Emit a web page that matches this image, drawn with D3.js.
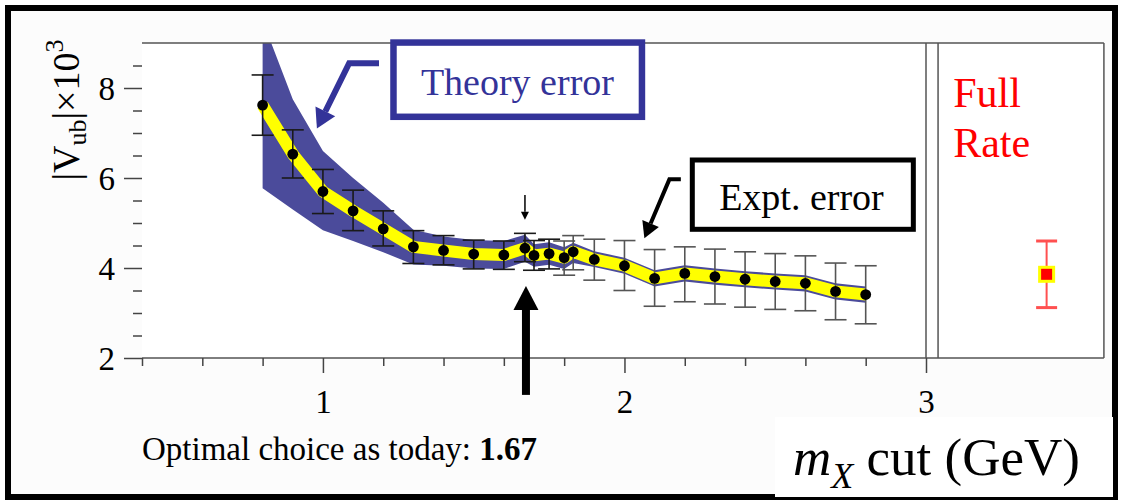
<!DOCTYPE html>
<html>
<head>
<meta charset="utf-8">
<script src="https://cdn.jsdelivr.net/npm/d3@7"></script>
<style>
  html, body { margin: 0; padding: 0; background: #ffffff; }
  svg { display: block; }
  text { font-family: "Liberation Serif", "Times New Roman", serif; }
</style>
</head>
<body>
<svg id="chart" width="1122" height="504"></svg>
<script>
// m_X cut values (GeV)
const mxCut = [0.8, 0.9, 1.0, 1.1, 1.2, 1.3, 1.4, 1.5, 1.6, 1.67, 1.7, 1.75, 1.8, 1.83,
               1.9, 2.0, 2.1, 2.2, 2.3, 2.4, 2.5, 2.6, 2.7, 2.8];
// |Vub| x 10^3 central values
const vub = [7.62, 6.53, 5.70, 5.27, 4.87, 4.47, 4.39, 4.31, 4.29, 4.44, 4.28, 4.32, 4.23, 4.36,
             4.19, 4.05, 3.77, 3.88, 3.81, 3.75, 3.70, 3.66, 3.48, 3.41];
// experimental error bar ends
const exptHi = [8.29, 7.07, 6.19, 5.73, 5.27, 4.83, 4.72, 4.62, 4.60, 4.77, 4.61, 4.64, 4.60, 4.72,
                4.64, 4.61, 4.41, 4.47, 4.42, 4.36, 4.32, 4.27, 4.11, 4.05];
const exptLo = [6.95, 6.00, 5.21, 4.83, 4.49, 4.10, 4.07, 3.98, 3.97, 4.14, 3.95, 3.98, 3.84, 3.96,
                3.73, 3.50, 3.15, 3.25, 3.20, 3.13, 3.08, 3.05, 2.85, 2.76];
// theory error band edges
const theoryHi = [9.50, 7.75, 6.60, 6.00, 5.45, 4.85, 4.70, 4.62, 4.60, 4.74, 4.53, 4.57, 4.46, 4.56,
                  4.37, 4.23, 3.95, 4.06, 3.99, 3.93, 3.88, 3.84, 3.66, 3.59];
const theoryLo = [5.77, 5.30, 4.84, 4.60, 4.35, 4.08, 4.05, 3.99, 3.98, 4.14, 4.03, 4.07, 3.98, 4.11,
                  4.02, 3.87, 3.59, 3.70, 3.63, 3.57, 3.52, 3.48, 3.30, 3.23];
// full-rate measurement (drawn in its own side panel)
const fullRateX = 3.4;
const fullRate = 3.86, fullRateHi = 4.60, fullRateLo = 3.12;
// side panel edges on the m_X axis
const panelLeft = 3.04, panelRight = 3.59;
// optimal cut
const optimalCut = 1.67;

// axis ticks
const xMajorTicks = [1, 2, 3];
const xMinorTicks = [0.4, 0.6, 0.8, 1.2, 1.4, 1.6, 1.8, 2.2, 2.4, 2.6, 2.8];
const yMajorTicks = [2, 4, 6, 8];
const yMinorTicks = [2.5, 3, 3.5, 4.5, 5, 5.5, 6.5, 7, 7.5, 8.5];

const pts = mxCut.map((m, i) => ({
  m, v: vub[i], hi: exptHi[i], lo: exptLo[i], tHi: theoryHi[i], tLo: theoryLo[i]
}));

const svg = d3.select("#chart");
const W = 1122, H = 504;

const x = d3.scaleLinear().domain([0.4, 3.0]).range([142, 926]);
const y = d3.scaleLinear().domain([2, 9]).range([358, 43]);

const BLUE = "#333399";
const BAND = "#4b4b9b";

// page frame
svg.append("rect").attr("x", 8).attr("y", 8).attr("width", 1107).attr("height", 489)
  .attr("fill", "#fcfcfc").attr("stroke", "#000").attr("stroke-width", 6);

// clip for the plotting area
svg.append("defs").append("clipPath").attr("id", "plotClip")
  .append("rect").attr("x", x(0.4)).attr("y", y(9)).attr("width", x(3) - x(0.4)).attr("height", y(2) - y(9));

svg.append("rect").attr("x", x(0.4)).attr("y", y(9)).attr("width", x(panelRight) - x(0.4))
  .attr("height", y(2) - y(9)).attr("fill", "#ffffff");

const plot = svg.append("g").attr("clip-path", "url(#plotClip)");

// theory error band
plot.append("path").datum(pts)
  .attr("d", d3.area().x(d => x(d.m)).y0(d => y(d.tLo)).y1(d => y(d.tHi)))
  .attr("fill", BAND);

// central value line
plot.append("path").datum(pts)
  .attr("d", d3.line().x(d => x(d.m)).y(d => y(d.v)))
  .attr("fill", "none").attr("stroke", "#ffff00").attr("stroke-width", 12)
  .attr("stroke-linejoin", "round");

// experimental error bars
const bars = plot.append("g").selectAll("g").data(pts).join("g")
  .attr("stroke", d => d.m >= 1.8 ? "#555555" : "#1a1a1a").attr("stroke-width", 1.6);
bars.append("line").attr("x1", d => x(d.m)).attr("x2", d => x(d.m))
  .attr("y1", d => y(d.hi)).attr("y2", d => y(d.lo));
bars.append("line").attr("x1", d => x(d.m) - 11).attr("x2", d => x(d.m) + 11)
  .attr("y1", d => y(d.hi)).attr("y2", d => y(d.hi));
bars.append("line").attr("x1", d => x(d.m) - 11).attr("x2", d => x(d.m) + 11)
  .attr("y1", d => y(d.lo)).attr("y2", d => y(d.lo));

// central points
plot.append("g").selectAll("circle").data(pts).join("circle")
  .attr("cx", d => x(d.m)).attr("cy", d => y(d.v)).attr("r", 5.4).attr("fill", "#000");

// frame lines of the plot and the side panel
const frameG = svg.append("g").attr("stroke", "#555").attr("stroke-width", 1.5).attr("fill", "none");
frameG.append("line").attr("x1", x(0.4)).attr("x2", x(panelRight)).attr("y1", y(9)).attr("y2", y(9));
frameG.append("line").attr("x1", x(3)).attr("x2", x(3)).attr("y1", y(9)).attr("y2", y(2));
frameG.append("line").attr("x1", x(panelLeft)).attr("x2", x(panelLeft)).attr("y1", y(9)).attr("y2", y(2));
frameG.append("line").attr("x1", x(panelRight)).attr("x2", x(panelRight)).attr("y1", y(9)).attr("y2", y(2));
frameG.append("line").attr("x1", x(0.4)).attr("x2", x(panelRight)).attr("y1", y(2)).attr("y2", y(2));

// axes
function styleAxis(g) {
  g.select(".domain").remove();
  g.selectAll(".tick line").attr("stroke", "#444").attr("stroke-width", 1.5);
  g.selectAll("text").attr("fill", "#000").attr("font-family", "Liberation Serif, serif");
}
svg.append("g").attr("transform", `translate(0,${y(2)})`)
  .call(d3.axisBottom(x).tickValues(xMinorTicks).tickSize(8).tickFormat(""))
  .call(styleAxis);
const xAxisG = svg.append("g").attr("transform", `translate(0,${y(2)})`)
  .call(d3.axisBottom(x).tickValues(xMajorTicks).tickSize(15).tickFormat(d3.format("d")))
  .call(styleAxis);
xAxisG.selectAll("text").attr("y", 55).attr("dy", 0).attr("font-size", 33);

svg.append("g").attr("transform", `translate(${x(0.4)},0)`)
  .call(d3.axisLeft(y).tickValues(yMinorTicks).tickSize(9).tickFormat(""))
  .call(styleAxis);
const yAxisG = svg.append("g").attr("transform", `translate(${x(0.4)},0)`)
  .call(d3.axisLeft(y).tickValues(yMajorTicks).tickSize(18).tickPadding(9).tickFormat(d3.format("d")))
  .call(styleAxis);
yAxisG.selectAll("text").attr("font-size", 33).attr("dy", "0.34em");

// y axis title
const yTitle = svg.append("text")
  .attr("transform", "translate(79,110) rotate(-90)")
  .attr("text-anchor", "middle").attr("font-size", 38).attr("fill", "#000");
yTitle.append("tspan").text("|V");
yTitle.append("tspan").attr("font-size", 26).attr("dy", 7).text("ub");
yTitle.append("tspan").attr("dy", -7).text("|×10");
yTitle.append("tspan").attr("font-size", 26).attr("dy", -16).text("3");

// arrow helper: polyline shaft ending in a filled triangular head
function arrow(g, points, color, width, headLen, headHalf) {
  const n = points.length;
  const [tx, ty] = points[n - 1];
  const [px, py] = points[n - 2];
  const len = Math.hypot(tx - px, ty - py);
  const ux = (tx - px) / len, uy = (ty - py) / len;
  const bx = tx - ux * headLen, by = ty - uy * headLen;
  const shaft = points.slice(0, n - 1).concat([[bx, by]]);
  g.append("path").attr("d", d3.line()(shaft)).attr("fill", "none")
    .attr("stroke", color).attr("stroke-width", width).attr("stroke-linejoin", "miter");
  g.append("path").attr("d", d3.line()([[tx, ty], [bx - uy * headHalf, by + ux * headHalf],
    [bx + uy * headHalf, by - ux * headHalf]]) + "Z").attr("fill", color);
}
const ann = svg.append("g");

// Theory error box and pointer
arrow(ann, [[x(1.186), y(8.55)], [x(1.087), y(8.55)], [x(0.98), y(7.10)]], BLUE, 6, 19, 11);
ann.append("rect").attr("x", x(1.234)).attr("y", y(9.01))
  .attr("width", x(2.058) - x(1.234)).attr("height", y(7.36) - y(9.01))
  .attr("fill", "#fff").attr("stroke", BLUE).attr("stroke-width", 6.5);
ann.append("text").attr("x", x(1.645)).attr("y", y(7.84)).attr("text-anchor", "middle")
  .attr("font-size", 38).attr("fill", BLUE).text("Theory error");

// Expt. error box and pointer
arrow(ann, [[x(2.187), y(5.97)], [x(2.149), y(5.97)], [x(2.066), y(4.66)]], "#000", 4, 16, 9);
ann.append("rect").attr("x", x(2.225)).attr("y", y(6.40))
  .attr("width", x(2.958) - x(2.225)).attr("height", y(4.86) - y(6.40))
  .attr("fill", "#fff").attr("stroke", "#000").attr("stroke-width", 5);
ann.append("text").attr("x", x(2.587)).attr("y", y(5.29)).attr("text-anchor", "middle")
  .attr("font-size", 38).attr("fill", "#000").text("Expt. error");

// small marker above the optimal point
arrow(ann, [[x(optimalCut), y(5.62)], [x(optimalCut), y(5.07)]], "#000", 1.5, 8, 4);
// big arrow pointing at the optimal cut
arrow(ann, [[x(optimalCut) + 1, y(1.18)], [x(optimalCut) + 1, y(3.60)]], "#000", 8, 24, 12.5);

// full-rate panel
ann.append("text").attr("x", x(3.09)).attr("y", y(7.58)).attr("font-size", 42)
  .attr("fill", "#ff0000").text("Full");
ann.append("text").attr("x", x(3.09)).attr("y", y(6.47)).attr("font-size", 42)
  .attr("fill", "#ff0000").text("Rate");
const fr = ann.append("g").attr("stroke", "#ff5050").attr("stroke-width", 2);
fr.append("line").attr("x1", x(fullRateX)).attr("x2", x(fullRateX))
  .attr("y1", y(fullRateHi)).attr("y2", y(fullRateLo));
fr.append("line").attr("x1", x(fullRateX) - 10.5).attr("x2", x(fullRateX) + 10.5)
  .attr("y1", y(fullRateHi)).attr("y2", y(fullRateHi)).attr("stroke-width", 3);
fr.append("line").attr("x1", x(fullRateX) - 10.5).attr("x2", x(fullRateX) + 10.5)
  .attr("y1", y(fullRateLo)).attr("y2", y(fullRateLo)).attr("stroke-width", 3);
ann.append("rect").attr("x", x(fullRateX) - 8.5).attr("y", y(fullRate) - 8.5)
  .attr("width", 17).attr("height", 17).attr("fill", "#ffff00");
ann.append("rect").attr("x", x(fullRateX) - 5.5).attr("y", y(fullRate) - 5.5)
  .attr("width", 11).attr("height", 11).attr("fill", "#ff0000");

// optimal choice note
const note = svg.append("text").attr("x", x(0.4)).attr("y", 460).attr("font-size", 33).attr("fill", "#000");
note.append("tspan").text("Optimal choice as today: ");
note.append("tspan").attr("font-weight", "bold").text(d3.format(".2f")(optimalCut));

// x axis title on its own white box
svg.append("rect").attr("x", 775).attr("y", 417).attr("width", 338).attr("height", 80).attr("fill", "#fff");
const xTitle = svg.append("text").attr("x", 793).attr("y", 475).attr("font-size", 53).attr("fill", "#000");
xTitle.append("tspan").attr("font-style", "italic").text("m");
xTitle.append("tspan").attr("font-style", "italic").attr("font-size", 36).attr("dy", 13).text("X");
xTitle.append("tspan").attr("dy", -13).text(" cut (GeV)");
</script>
</body>
</html>
